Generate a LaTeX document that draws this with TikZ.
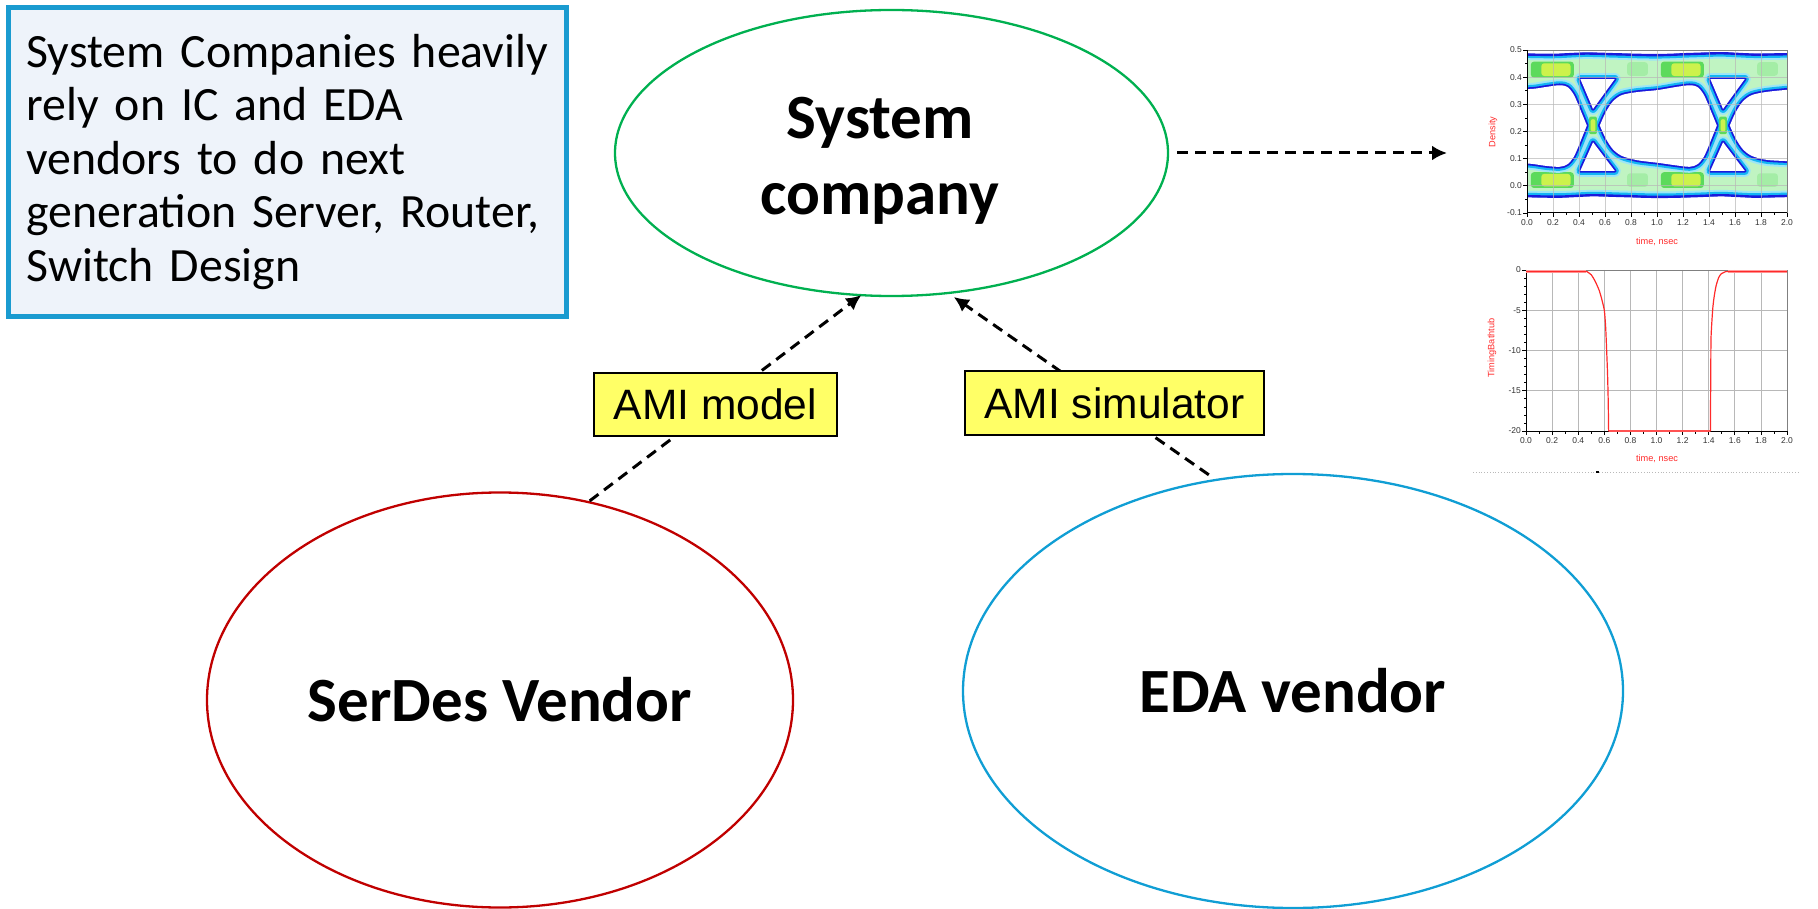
\documentclass[tikz,border=0pt]{standalone}
\usepackage{fontspec}
\setmainfont{Carlito}
\newfontfamily\arialfont{Liberation Sans}
\usetikzlibrary{shapes.geometric,arrows.meta}

\definecolor{sysgreen}{HTML}{00B050}
\definecolor{serdesred}{HTML}{C00000}
\definecolor{edablue}{HTML}{109ED4}
\definecolor{boxblue}{HTML}{1A9BD0}
\definecolor{boxfill}{HTML}{EEF3FA}
\definecolor{tagyellow}{HTML}{FFFF66}
\definecolor{plotred}{HTML}{FF2A2A}
\definecolor{gridgray}{HTML}{B8B8B8}
\definecolor{eyeblue}{HTML}{1A1ADC}
\definecolor{eyecyan}{HTML}{14B6F4}
\definecolor{eyelight}{HTML}{9CE6F6}
\definecolor{eyepale}{HTML}{C0F4C2}
\definecolor{eyegreen}{HTML}{5CDA5C}
\definecolor{eyeyellow}{HTML}{CCF24C}
\definecolor{eyemid}{HTML}{A4EDA6}

% outline of the signal band of the eye diagram (time in ns, voltage in V)
\def\eyeband{plot[smooth] coordinates {(-0.05,0.486) (0.2,0.484) (0.45,0.489) (0.7,0.486) (1.0,0.483) (1.25,0.487) (1.5,0.49) (1.75,0.485) (2.05,0.487)} -- plot[smooth] coordinates {(2.05,-0.039) (1.75,-0.042) (1.5,-0.037) (1.25,-0.041) (1.0,-0.043) (0.75,-0.04) (0.5,-0.037) (0.25,-0.042) (-0.05,-0.04)} -- cycle}
% eye openings and the small triangles above and below each crossing
\def\eyeholes{plot[smooth] coordinates {(-0.06,0.355) (0.05,0.357) (0.15,0.364) (0.25,0.37) (0.31,0.364) (0.36,0.335) (0.41,0.28) (0.46,0.222)} -- plot[smooth] coordinates {(0.41,0.162) (0.36,0.107) (0.31,0.079) (0.25,0.07) (0.15,0.073) (0.05,0.08) (-0.06,0.085)} -- cycle
 plot[smooth] coordinates {(0.56,0.222) (0.605,0.27) (0.66,0.31) (0.73,0.334) (0.85,0.345) (1.0,0.352) (1.15,0.364) (1.25,0.37) (1.31,0.364) (1.36,0.335) (1.41,0.28) (1.46,0.222)} -- plot[smooth] coordinates {(1.41,0.162) (1.36,0.107) (1.31,0.079) (1.25,0.07) (1.15,0.075) (1.0,0.085) (0.85,0.094) (0.73,0.11) (0.66,0.135) (0.605,0.175) (0.56,0.222)} -- cycle
 plot[smooth] coordinates {(1.56,0.222) (1.605,0.27) (1.66,0.31) (1.73,0.334) (1.85,0.346) (2.06,0.356)} -- plot[smooth] coordinates {(2.06,0.09) (1.85,0.095) (1.73,0.11) (1.66,0.135) (1.605,0.175) (1.56,0.222)} -- cycle
 (0.41,0.393) -- (0.675,0.393) -- (0.508,0.283) -- cycle
 (0.41,0.055) -- (0.675,0.055) -- (0.508,0.16) -- cycle
 (1.41,0.393) -- (1.675,0.393) -- (1.508,0.283) -- cycle
 (1.41,0.055) -- (1.675,0.055) -- (1.508,0.16) -- cycle}

\begin{document}
\begin{tikzpicture}[x=1pt,y=-1pt,
  party/.style={ellipse, draw, line width=2.3pt, inner sep=0pt, outer sep=0pt,
    font=\bfseries\fontsize{63}{76}\selectfont},
  bigtext/.style={font=\bfseries\fontsize{63}{76}\selectfont, align=center, inner sep=0pt},
  flow/.style={line width=3pt, dash pattern=on 11pt off 7pt, -{Latex[length=15pt,width=15pt]}},
  amitag/.style={draw=black, line width=2pt, fill=tagyellow, minimum width=243pt,
    minimum height=63pt, inner sep=0pt, font=\arialfont\fontsize{42.5}{44}\selectfont},
  ticklabel/.style={font=\arialfont\fontsize{8.5}{10}\selectfont, text=black!80, inner sep=0pt},
  axlabel/.style={font=\arialfont\fontsize{9.2}{10}\selectfont, text=plotred, inner sep=0pt},
  plotgrid/.style={draw=gridgray, line width=0.8pt},
  axisline/.style={draw=black, line width=1pt},
  frameline/.style={draw=gray, line width=0.8pt},
  plottick/.style={draw=black, line width=0.7pt},
]
\path[use as bounding box] (0,0) rectangle (1818,909);

% ---------- note box ----------
\node[draw=boxblue, line width=5pt, fill=boxfill, anchor=north west, outer sep=0pt,
      minimum width=558pt, minimum height=309pt, text width=522pt, inner xsep=18pt,
      inner ysep=0pt, execute at begin node=\raggedright,
      font=\fontsize{47.8}{53.5}\selectfont] (note) at (8.5,7.5)
  {System Companies heavily\\rely on IC and EDA\\vendors to do next\\generation Server, Router,\\Switch Design};

% ---------- parties ----------
\node[party, draw=sysgreen, minimum width=553pt, minimum height=286pt] (sys) at (891.5,153) {};
\node[bigtext] (sysText) at (880,161) {System\\company};
\node[party, draw=serdesred, minimum width=586pt, minimum height=415pt] (serdes) at (500,700) {SerDes Vendor};
\node[party, draw=edablue, minimum width=660pt, minimum height=434pt] (eda) at (1293,691) {EDA vendor};

% ---------- connectors ----------
\coordinate (eyeIn) at (1447,153);
\draw[flow] ([xshift=9pt]sys.east) -- (eyeIn);
\draw[flow, shorten <=2pt] (serdes.66) -- (sys.258);
\draw[flow, shorten <=9pt, shorten >=7pt] (eda.110) -- (sys.292);

\node[amitag] (tagModel) at (715.5,404.5) {AMI model};
\node[amitag, minimum width=299pt, minimum height=64pt] (tagSim) at (1114.5,403) {AMI simulator};

% ---------- eye diagram ----------
\begin{scope}[shift={(1527,185.8)}, x=130pt, y=271.7pt]
  \begin{scope}
    \clip (0,-0.1) rectangle (2,0.5);
    \fill[eyepale] \eyeband;
    % density peaks on the two levels
    \foreach \s in {0,1} {
      \fill[eyegreen, rounded corners=3pt] (\s+0.03,0.398) rectangle (\s+0.36,0.457);
      \fill[eyeyellow, rounded corners=3pt] (\s+0.11,0.404) rectangle (\s+0.335,0.451);
      \fill[eyegreen, rounded corners=3pt] (\s+0.03,-0.008) rectangle (\s+0.36,0.05);
      \fill[eyeyellow, rounded corners=3pt] (\s+0.11,-0.002) rectangle (\s+0.335,0.044);
      \fill[eyemid, rounded corners=3pt] (\s+0.77,0.405) rectangle (\s+0.93,0.455);
      \fill[eyemid, rounded corners=3pt] (\s+0.77,-0.004) rectangle (\s+0.93,0.046);
    }
    \begin{scope}
      \clip \eyeband;
      \draw[eyelight, line width=12pt] \eyeband;
      \draw[eyecyan, line width=8pt] \eyeband;
      \draw[eyeblue, line width=3.6pt] \eyeband;
    \end{scope}
    \draw[eyeblue, line width=1.2pt] \eyeband;
    \draw[eyelight, line width=12pt, line join=round] \eyeholes;
    \draw[eyecyan, line width=8pt, line join=round] \eyeholes;
    \draw[eyeblue, line width=3.6pt, line join=round] \eyeholes;
    \foreach \s in {0,1} {
      \fill[eyegreen, rounded corners=2pt] (\s+0.478,0.19) rectangle (\s+0.538,0.255);
      \fill[eyeyellow, rounded corners=2pt] (\s+0.49,0.2) rectangle (\s+0.526,0.245);
    }
    \fill[white] \eyeholes;
  \end{scope}
  \foreach \i in {1,...,9} \draw[plotgrid, opacity=0.7] (\i/5,-0.1) -- (\i/5,0.5);
  \foreach \j in {0,...,4} \draw[plotgrid, opacity=0.7] (0,\j/10) -- (2,\j/10);
  \draw[frameline] (0,0.5) -- (2,0.5) -- (2,-0.1);
  \draw[axisline] (0,0.5) -- (0,-0.1) -- (2,-0.1);
  \foreach \i in {0,...,20} {
    \ifodd\i \def\tl{2.5pt}\else\def\tl{4pt}\fi
    \draw[plottick] (\i/10,-0.1) -- ++(0,-\tl);
  }
  \foreach \j in {-2,...,10} {
    \ifodd\j \def\tl{2.5pt}\else\def\tl{4pt}\fi
    \draw[plottick] (0,\j/20) -- ++(-\tl,0);
  }
  \foreach \v [count=\k] in {0.5,0.4,0.3,0.2,0.1,0.0,-0.1}
    \node[ticklabel, anchor=east] (eyeY\k) at ([xshift=-5pt]0,\v) {\v};
  \foreach \t [count=\k] in {0.0,0.2,0.4,0.6,0.8,1.0,1.2,1.4,1.6,1.8,2.0}
    \node[ticklabel, anchor=north] (eyeX\k) at ([yshift=-6pt]\t,-0.1) {\t};
\end{scope}
\node[axlabel, rotate=90] (eyeYname) at (1493,132) {Density};
\node[axlabel] (eyeXname) at (1657,242) {time, nsec};

% ---------- bathtub curve ----------
\begin{scope}[shift={(1526,270)}, x=130.5pt, y=8.05pt]
  \foreach \i in {1,...,9} \draw[plotgrid] (\i/5,0) -- (\i/5,-20);
  \foreach \j in {-5,-10,-15} \draw[plotgrid] (0,\j) -- (2,\j);
  \draw[frameline] (0,0) -- (2,0) -- (2,-20);
  \draw[axisline] (0,0) -- (0,-20) -- (2,-20);
  \foreach \i in {0,...,20} {
    \ifodd\i \def\tl{2.5pt}\else\def\tl{4pt}\fi
    \draw[plottick] (\i/10,-20) -- ++(0,-\tl);
  }
  \foreach \j in {0,...,20} \draw[plottick] (0,-\j) -- ++(-2.5pt,0);
  \foreach \j in {0,5,10,15,20} \draw[plottick] (0,-\j) -- ++(-4pt,0);
  \draw[plotred!45, line width=2.6pt] (0,-0.2) -- (0.46,-0.2) (1.55,-0.2) -- (2,-0.2)
       (0.633,-20) -- (1.413,-20);
  \draw[plotred, line width=1.2pt, line join=round]
    (0,-0.2) -- (0.46,-0.2)
    -- plot[smooth, tension=0.4] coordinates {(0.467,-0.2) (0.5,-0.6) (0.53,-1.4) (0.56,-2.5) (0.58,-3.6) (0.6,-5) (0.61,-7) (0.618,-10) (0.625,-13) (0.63,-16.4) (0.633,-20)}
    -- (1.413,-20)
    -- plot[smooth, tension=0.4] coordinates {(1.413,-20) (1.416,-12) (1.418,-8.3) (1.43,-5) (1.44,-3.5) (1.456,-2) (1.475,-1) (1.494,-0.5) (1.53,-0.2)}
    -- (2,-0.2);
  \foreach \v [count=\k] in {0,-5,-10,-15,-20}
    \node[ticklabel, anchor=east] (tubY\k) at ([xshift=-5pt]0,\v) {\v};
  \foreach \t [count=\k] in {0.0,0.2,0.4,0.6,0.8,1.0,1.2,1.4,1.6,1.8,2.0}
    \node[ticklabel, anchor=north] (tubX\k) at ([yshift=-6pt]\t,-20) {\t};
\end{scope}
\node[axlabel, rotate=90] (tubYname) at (1492,348) {TimingBathtub};
\node[axlabel] (tubXname) at (1657,459) {time, nsec};

% lower edge of the plot panel
\draw[gray!55, dotted, line width=0.8pt] (1473,472) -- (1798,472);
\fill[black] (1596,471) rectangle (1599,473);
\end{tikzpicture}
\end{document}
